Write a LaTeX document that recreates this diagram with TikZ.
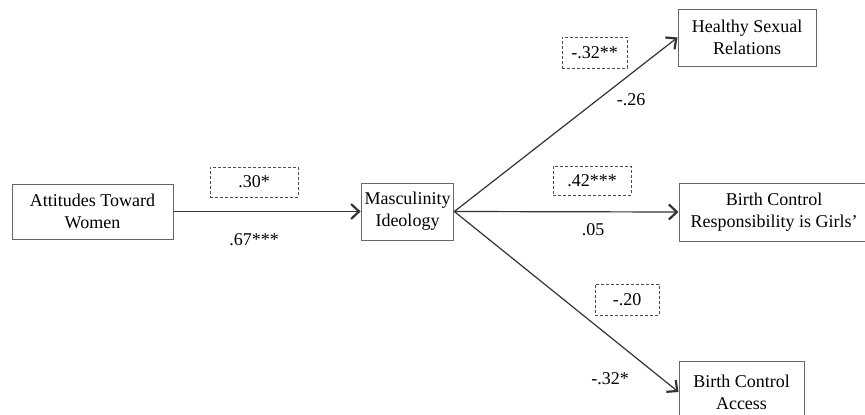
\documentclass[tikz,border=0pt]{standalone}
\usepackage{fontspec}
\setmainfont{Liberation Serif}
\usetikzlibrary{arrows.meta,positioning}

\begin{document}
\begin{tikzpicture}[x=1pt,y=-1pt,
                >={Straight Barb[length=8pt,width=15pt,line width=2.2pt]},
                line width=1.2pt,
                main/.style = {draw=black!60, line width=1pt, align=center,
                               font=\fontsize{18}{22}\selectfont},
                coef/.style = {draw=black!70, dashed, dash pattern=on 3pt off 2pt,
                               line width=1pt, font=\fontsize{18}{22}\selectfont},
                est/.style = {font=\fontsize{18}{22}\selectfont}]
            \useasboundingbox (0,0) rectangle (865,415);
            % Nodes
            \node[main,minimum width=161pt,minimum height=55pt] (att) at (92.5,211.5) {Attitudes Toward\\Women};
            \node[main,minimum width=91pt,minimum height=57pt] (mas) at (407.5,211.5) {Masculinity\\Ideology};
            \node[main,minimum width=138pt,minimum height=57pt] (hsr) at (747,37.5) {Healthy Sexual\\Relations};
            \node[main,minimum width=190pt,minimum height=58pt,inner sep=1pt] (bcr) at (774,212) {Birth Control\\Responsibility is Girls'};
            \node[main,minimum width=125pt,minimum height=62pt] (bca) at (741.5,392) {Birth Control\\Access};

            % Coefficients
            \node[coef,minimum width=88pt,minimum height=30pt] (c1) at (254,182) {.30*};
            \node[est] (e1) at (254,240) {.67***};
            \node[coef,minimum width=65pt,minimum height=31pt] (c2) at (594.5,52.5) {-.32**};
            \node[est] (e2) at (631,100) {-.26};
            \node[coef,minimum width=78pt,minimum height=29pt] (c3) at (592,180.5) {.42***};
            \node[est] (e3) at (593,230) {.05};
            \node[coef,minimum width=64pt,minimum height=31pt] (c4) at (627,299.5) {-.20};
            \node[est] (e4) at (610,379) {-.32*};

            %Edges
            \draw[->,black!80] (att) -- (mas);
            \draw[->,black!80] (mas.east) -- (hsr.west);
            \draw[->,black!80] (mas.east) -- (bcr.west);
            \draw[->,black!80] (mas.east) -- (bca.west);
        \end{tikzpicture}
\end{document}
